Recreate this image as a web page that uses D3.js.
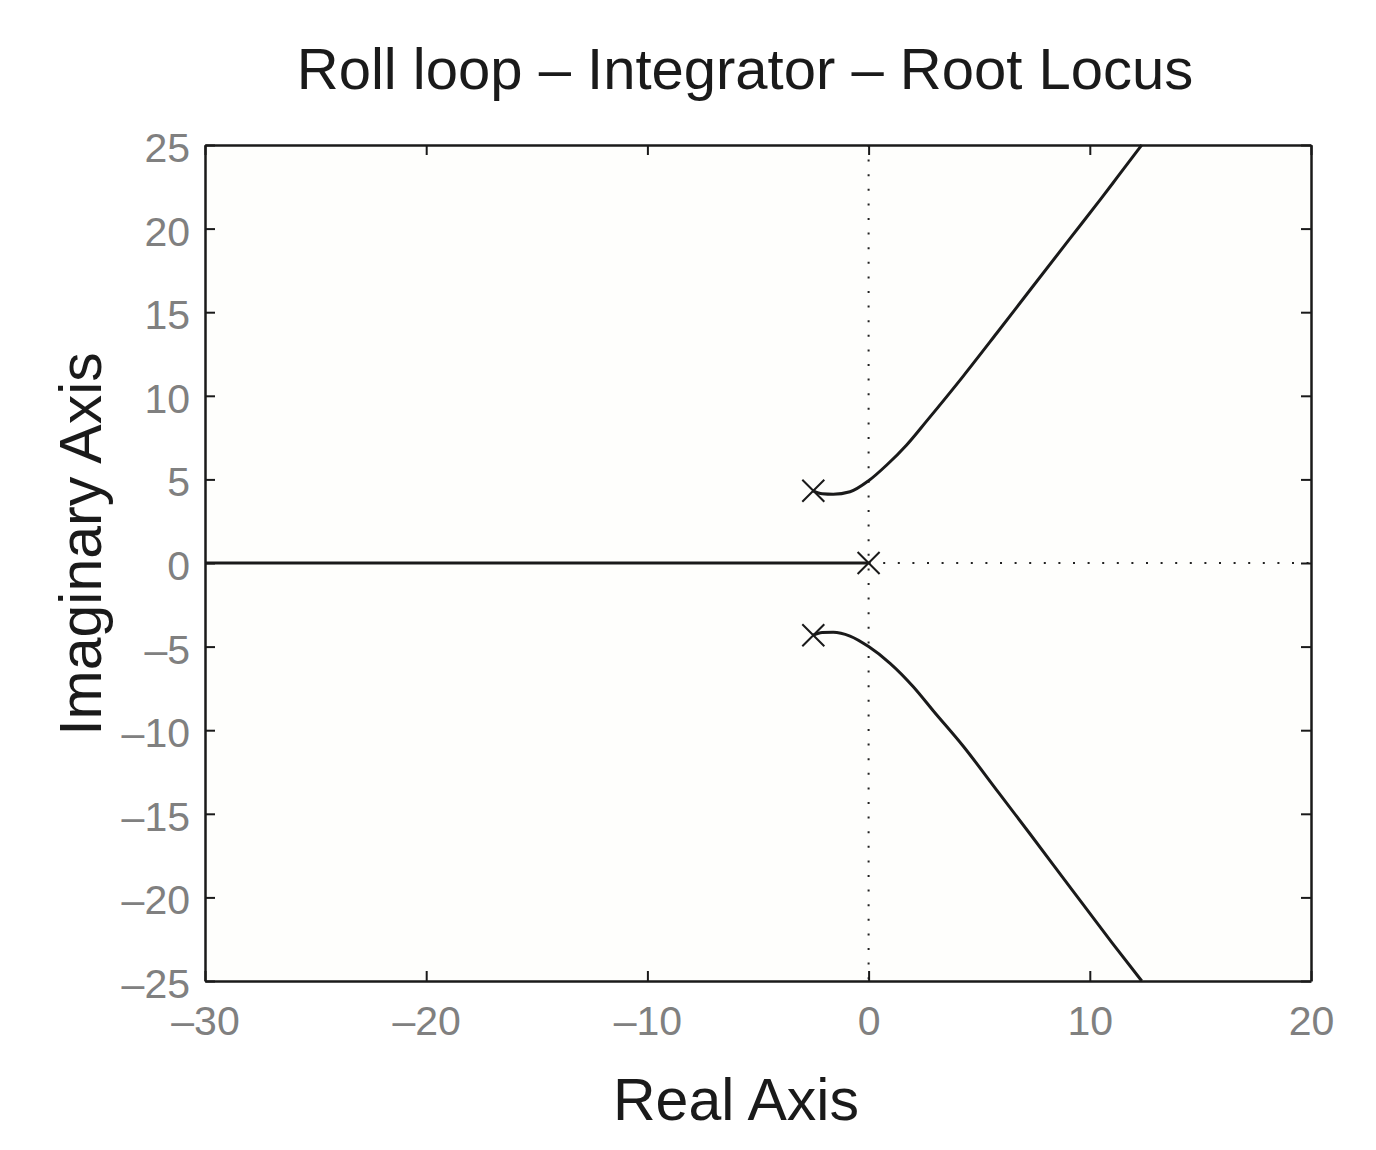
<!DOCTYPE html>
<html><head><meta charset="utf-8">
<script src="https://cdn.jsdelivr.net/npm/d3@7"></script>
<style>body{margin:0;background:#fff}svg{display:block}text{font-family:"Liberation Sans",Arial,Helvetica,sans-serif}</style>
</head><body><div id="chart"></div>
<script>
const xTicks = [-30, -20, -10, 0, 10, 20];
const yTicks = [25, 20, 15, 10, 5, 0, -5, -10, -15, -20, -25];
const poleRe = [-2.5, 0, -2.5];
const poleIm = [4.32, 0, -4.32];
const upperRe = [-2.5, -2.1, -1.6, -0.84, 0, 0.82, 1.72, 2.63, 4.28, 5.79, 7.3, 9.1, 10.5, 11.22, 12.35];
const upperIm = [4.32, 4.14, 4.11, 4.26, 4.92, 5.86, 7.06, 8.5, 11.18, 13.74, 16.33, 19.4, 21.78, 23.03, 25.0];
const lowerRe = [-2.5, -2.1, -1.6, -0.84, 0, 0.97, 2.02, 2.93, 4.28, 5.79, 7.3, 9.25, 11.0, 12.35];
const lowerIm = [-4.32, -4.15, -4.14, -4.37, -5.0, -6.0, -7.4, -8.85, -10.96, -13.58, -16.21, -19.64, -22.7, -25.0];
const realRe = [-30, 0];
const realIm = [0, 0];

const W = 1376, H = 1150;
const m = {l: 205, r: 1311, t: 145, b: 981};
const svg = d3.select('#chart').append('svg').attr('width', W).attr('height', H);
svg.append('rect').attr('width', W).attr('height', H).attr('fill', '#ffffff');
const x = d3.scaleLinear().domain([-30, 20]).range([m.l, m.r]);
const y = d3.scaleLinear().domain([-25, 25]).range([m.b, m.t]);

svg.append('rect').attr('x', m.l).attr('y', m.t).attr('width', m.r - m.l).attr('height', m.b - m.t).attr('fill', '#fefefc');

// dotted reference lines
svg.append('line').attr('x1', x(0)).attr('x2', x(0)).attr('y1', y(25)).attr('y2', y(-25))
  .attr('stroke', '#222').attr('stroke-width', 2).attr('stroke-dasharray', '2,12.6');
svg.append('line').attr('x1', x(0)).attr('x2', x(20)).attr('y1', y(0)).attr('y2', y(0))
  .attr('stroke', '#222').attr('stroke-width', 2).attr('stroke-dasharray', '2,12.6');

const tickColor = '#808080';
const lab = 41;
const fmt = d => d < 0 ? '\u2013' + Math.abs(d) : d;
const axB = svg.append('g').attr('transform', `translate(0,${m.b})`).call(d3.axisBottom(x).tickValues(xTicks).tickSizeInner(-10).tickSizeOuter(0).tickPadding(25).tickFormat(fmt));
const axT = svg.append('g').attr('transform', `translate(0,${m.t})`).call(d3.axisTop(x).tickValues(xTicks).tickSizeInner(-10).tickSizeOuter(0).tickFormat(''));
const axL = svg.append('g').attr('transform', `translate(${m.l},0)`).call(d3.axisLeft(y).tickValues(yTicks).tickSizeInner(-10).tickSizeOuter(0).tickPadding(15).tickFormat(fmt));
const axR = svg.append('g').attr('transform', `translate(${m.r},0)`).call(d3.axisRight(y).tickValues(yTicks).tickSizeInner(-10).tickSizeOuter(0).tickFormat(''));
[axB, axT, axL, axR].forEach(a => {
  a.select('.domain').attr('stroke', '#1a1a1a').attr('stroke-width', 2.5);
  a.selectAll('.tick line').attr('stroke', '#1a1a1a').attr('stroke-width', 2);
  a.selectAll('.tick text').attr('fill', tickColor).attr('font-size', lab).attr('font-family', '"Liberation Sans",Arial,sans-serif');
});
axB.selectAll('.tick text').attr('dy', '0.71em');
axL.selectAll('.tick text').attr('dy', '0.4em');

// locus
const lineC = d3.line().x(d => x(d[0])).y(d => y(d[1])).curve(d3.curveMonotoneX);
svg.append('path').datum(upperRe.map((v, i) => [v, upperIm[i]])).attr('d', lineC).attr('fill', 'none').attr('stroke', '#1a1a1a').attr('stroke-width', 3).attr('stroke-linejoin', 'round');
svg.append('path').datum(lowerRe.map((v, i) => [v, lowerIm[i]])).attr('d', lineC).attr('fill', 'none').attr('stroke', '#1a1a1a').attr('stroke-width', 3).attr('stroke-linejoin', 'round');
svg.append('path').datum(realRe.map((v, i) => [v, realIm[i]])).attr('d', d3.line().x(d => x(d[0])).y(d => y(d[1]))).attr('fill', 'none').attr('stroke', '#1a1a1a').attr('stroke-width', 3);

// poles
const s = 11;
poleRe.forEach((v, i) => {
  const cx = x(v), cy = y(poleIm[i]);
  svg.append('path').attr('d', `M${cx - s},${cy - s}L${cx + s},${cy + s}M${cx - s},${cy + s}L${cx + s},${cy - s}`)
    .attr('stroke', '#1a1a1a').attr('stroke-width', 2);
});

// titles
svg.append('text').attr('x', 745).attr('y', 89).attr('text-anchor', 'middle').attr('font-size', 58).attr('fill', '#1a1a1a')
  .text('Roll loop \u2013 Integrator \u2013 Root Locus');
svg.append('text').attr('x', 736).attr('y', 1120).attr('text-anchor', 'middle').attr('font-size', 59).attr('fill', '#1a1a1a').text('Real Axis');
svg.append('text').attr('transform', 'translate(101,544) rotate(-90)').attr('text-anchor', 'middle').attr('font-size', 59).attr('fill', '#1a1a1a').text('Imaginary Axis');
</script></body></html>
